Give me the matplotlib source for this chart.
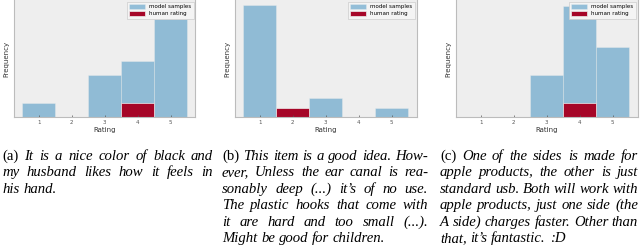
import matplotlib
matplotlib.use('Agg')
import matplotlib.pyplot as plt

# ratings 1..5, counts per rating for each example
ratings = [1, 2, 3, 4, 5]
tick_labels = ['1', '2', '3', '4', '5']
model_a = [1, 0, 3, 4, 7]
human_a = [0, 0, 0, 1, 0]
model_b = [12, 0, 2, 0, 1]
human_b = [0, 1, 0, 0, 0]
model_c = [0, 0, 3, 8, 5]
human_c = [0, 0, 0, 1, 0]

captions = [
    ['(a) It is a nice color of black and',
     'my husband likes how it feels in',
     'his hand.'],
    ['(b) This item is a good idea. How-',
     'ever, Unless the ear canal is rea-',
     'sonably deep (...) it’s of no use.',
     'The plastic hooks that come with',
     'it are hard and too small (...).',
     'Might be good for children.'],
    ['(c) One of the sides is made for',
     'apple products, the other is just',
     'standard usb. Both will work with',
     'apple products, just one side (the',
     'A side) charges faster. Other than',
     'that, it’s fantastic. :D'],
]

plt.style.use('bmh')
W, H = 640, 245
fig = plt.figure(figsize=(6.4, 2.45), dpi=100)

panels = [(model_a, human_a, 14, 8.4),
          (model_b, human_b, 235, 12.5),
          (model_c, human_c, 456, 8.4)]

for model, human, left, ytop in panels:
    ax = fig.add_axes([left / W, 1 - 117 / H, 181.5 / W, 117 / H])
    ax.bar(ratings, model, width=1, color='#348ABD', alpha=0.5,
           edgecolor='#eeeeee', linewidth=0.5, label='model samples')
    ax.bar(ratings, human, width=1, color='#A60628',
           edgecolor='#eeeeee', linewidth=0.5, label='human rating')
    ax.set_xlim(0.25, 5.75)
    ax.set_ylim(0, ytop)
    ax.grid(False)
    ax.set_xticks(ratings)
    ax.set_xticklabels(tick_labels)
    ax.set_yticks([])
    ax.tick_params(axis='x', labelsize=4, length=1.5, width=0.5,
                   direction='in', pad=2, colors='#555555')
    ax.set_xlabel('Rating', fontsize=5, labelpad=1.5, color='#333333')
    ax.set_ylabel('Frequency', fontsize=5, labelpad=3, color='#333333')
    for s in ax.spines.values():
        s.set_color('#bcbcbc')
        s.set_linewidth(0.8)
    ax.spines['top'].set_visible(False)
    ax.legend(loc='upper right', fontsize=4, frameon=True, framealpha=1,
              facecolor='#f4f4f4', edgecolor='#cccccc', fancybox=False,
              handlelength=2.8, handleheight=1.0, borderpad=0.4,
              labelspacing=0.3, borderaxespad=0.3)

# captions, justified by hand
FS = 10.6
SERIF = 'Liberation Serif'
renderer = fig.canvas.get_renderer()


def text_width(s, style):
    t = fig.text(0, 0, s, fontsize=FS, family=SERIF, style=style)
    w = t.get_window_extent(renderer).width
    t.remove()
    return w


space = text_width('a b', 'italic') - text_width('ab', 'italic')
columns = [(2, 213), (222, 428), (440, 638)]
y0, step = 160, 16.4

for lines, (x0, x1) in zip(captions, columns):
    for i, line in enumerate(lines):
        words = line.split(' ')
        styles = ['italic'] * len(words)
        if i == 0:
            styles[0] = 'normal'
        widths = [text_width(w, s) for w, s in zip(words, styles)]
        last = i == len(lines) - 1
        gap = space if last else (x1 - x0 - sum(widths)) / (len(words) - 1)
        x = x0
        y = 1 - (y0 + i * step) / H
        for w, s, wd in zip(words, styles, widths):
            fig.text(x / W, y, w, fontsize=FS, family=SERIF, style=s,
                     va='baseline', ha='left', color='black')
            x += wd + gap

fig.savefig('out.png', dpi=100)
